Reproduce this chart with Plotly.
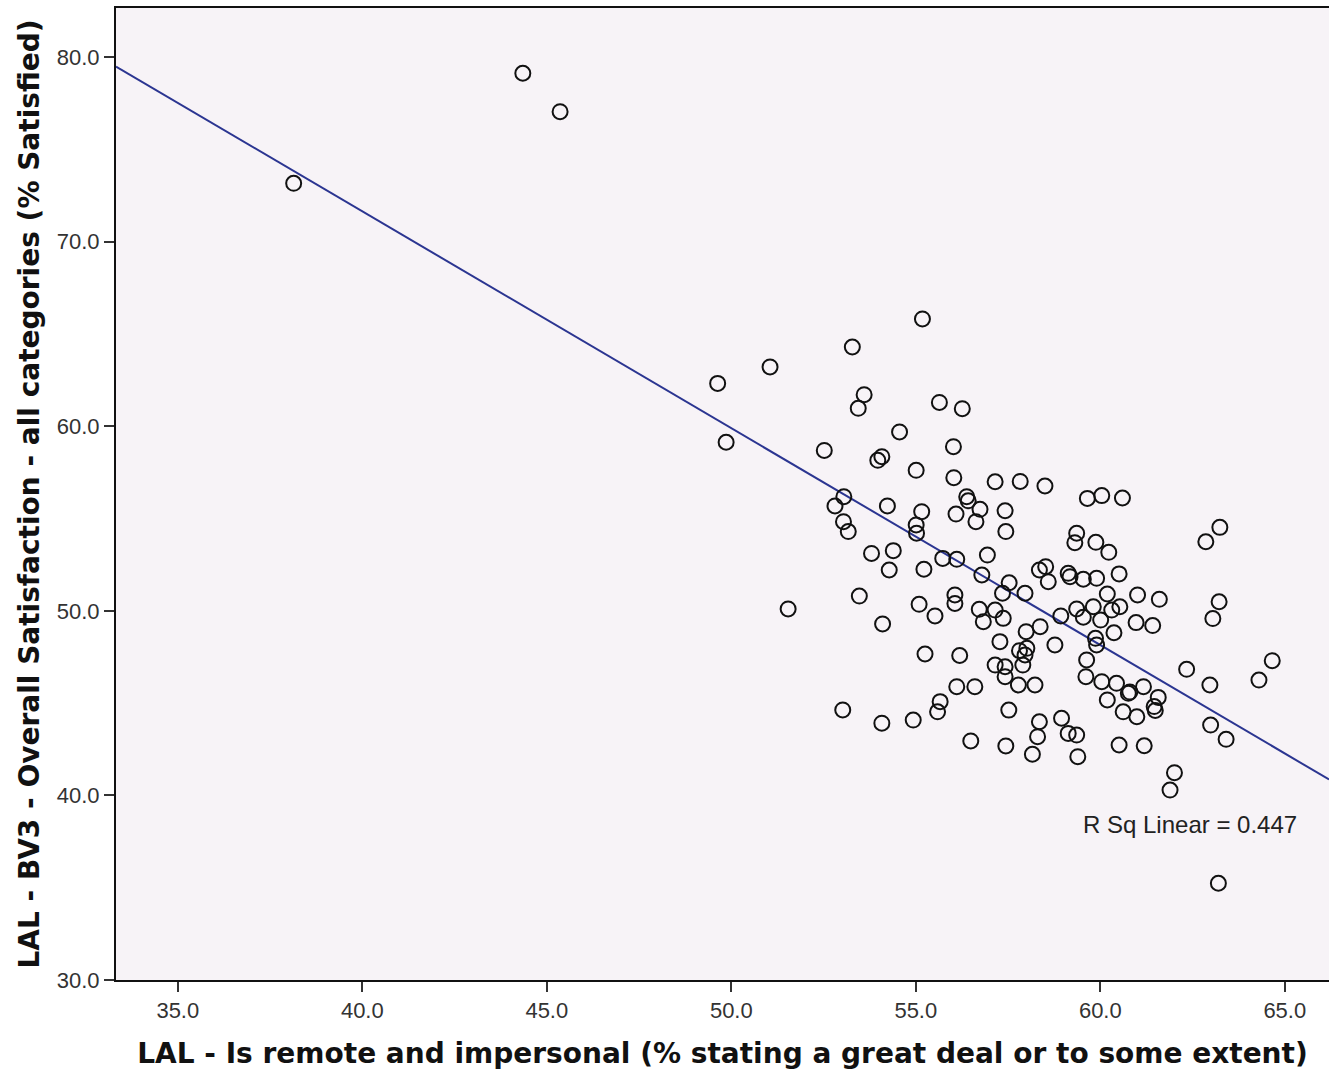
import numpy as np
import plotly.graph_objects as go

# % stating the council is remote and impersonal
remote_pct = [
    38.14, 44.35, 45.36, 49.63, 49.86, 51.05, 51.54, 52.52, 53.28, 55.18,
    53.60, 53.44, 55.64, 56.26, 54.56, 56.02, 53.97, 54.08, 55.01, 56.03,
    57.15, 57.83, 58.50, 53.05, 56.38, 56.42, 59.65, 60.04, 60.60, 57.42,
    57.44, 59.36, 59.31, 59.88, 60.23, 63.24, 62.86, 58.35, 58.52, 58.59,
    59.13, 59.18, 59.54, 59.90, 60.51, 57.53, 57.96, 60.19, 61.01, 61.60,
    63.22, 60.53, 59.36, 59.81, 60.31, 58.93, 63.05, 59.54, 60.01, 60.97,
    61.42, 56.79, 57.35, 56.06, 56.06, 56.72, 57.15, 56.83, 57.37, 57.99,
    58.37, 60.37, 59.87, 59.90, 57.28, 57.81, 57.96, 58.01, 58.77, 56.19,
    57.15, 57.42, 57.42, 57.90, 59.63, 59.61, 56.11, 56.60, 57.78, 58.23,
    60.04, 60.44, 60.76, 60.80, 61.17, 60.19, 57.52, 52.81, 53.04, 53.17,
    54.23, 55.16, 55.01, 55.02, 56.09, 56.74, 56.63, 53.80, 54.39, 54.28,
    55.22, 55.73, 56.11, 56.94, 53.47, 55.09, 55.52, 54.10, 55.25, 53.02,
    54.08, 54.93, 55.66, 55.59, 58.35, 58.30, 58.16, 56.49, 57.44, 61.57,
    61.46, 61.49, 60.62, 60.99, 62.34, 62.97, 64.66, 64.30, 62.99, 63.41,
    58.95, 59.13, 59.36, 59.39, 60.51, 61.19, 62.01, 61.89, 63.20,
]

# Overall satisfaction (% satisfied)
satisfied_pct = [
    73.16, 79.12, 77.04, 62.32, 59.13, 63.21, 50.10, 58.69, 64.29, 65.81,
    61.71, 60.97, 61.29, 60.95, 59.69, 58.89, 58.15, 58.35, 57.61, 57.21,
    56.99, 57.01, 56.76, 56.18, 56.18, 55.96, 56.09, 56.24, 56.11, 55.42,
    54.29, 54.20, 53.69, 53.71, 53.17, 54.52, 53.74, 52.21, 52.39, 51.58,
    52.03, 51.85, 51.71, 51.76, 52.00, 51.52, 50.95, 50.91, 50.86, 50.62,
    50.49, 50.22, 50.10, 50.22, 50.04, 49.72, 49.58, 49.65, 49.50, 49.36,
    49.20, 51.94, 50.95, 50.86, 50.40, 50.08, 50.04, 49.41, 49.59, 48.87,
    49.14, 48.81, 48.51, 48.15, 48.33, 47.84, 47.61, 47.97, 48.15, 47.58,
    47.06, 46.97, 46.43, 47.06, 47.34, 46.43, 45.89, 45.89, 45.98, 45.98,
    46.16, 46.07, 45.53, 45.60, 45.89, 45.17, 44.62, 55.68, 54.83, 54.29,
    55.68, 55.37, 54.65, 54.20, 55.24, 55.50, 54.83, 53.11, 53.26, 52.21,
    52.25, 52.84, 52.79, 53.02, 50.80, 50.35, 49.72, 49.29, 47.66, 44.63,
    43.91, 44.08, 45.08, 44.53, 43.99, 43.18, 42.23, 42.95, 42.68, 45.31,
    44.81, 44.60, 44.53, 44.26, 46.83, 45.98, 47.30, 46.25, 43.81, 43.04,
    44.18, 43.36, 43.27, 42.10, 42.73, 42.69, 41.23, 40.29, 35.24,
]

x_ticks = [35, 40, 45, 50, 55, 60, 65]
y_ticks = [30, 40, 50, 60, 70, 80]
r_sq_label = "R Sq Linear = 0.447"

x_range = [33.325, 66.198]
y_range = [30.0, 82.655]

# least-squares fit line across the full x range
slope, intercept = np.polyfit(remote_pct, satisfied_pct, 1)
fit_x = np.array(x_range)
fit_y = intercept + slope * fit_x

fig = go.Figure()

fig.add_trace(go.Scatter(
    x=fit_x, y=fit_y, mode="lines",
    line=dict(color="#2B3591", width=2),
    hoverinfo="skip", showlegend=False,
))

fig.add_trace(go.Scatter(
    x=remote_pct, y=satisfied_pct, mode="markers",
    marker=dict(symbol="circle-open", size=15, color="#111111",
                line=dict(width=2, color="#111111")),
    showlegend=False,
))

# R Sq label placed in data units, lower right of the cloud
fig.add_annotation(
    x=62.43, y=38.44, xref="x", yref="y", text=r_sq_label, showarrow=False,
    font=dict(family="Liberation Sans, Arial, sans-serif", size=24, color="#222222"),
)

axis_font = dict(family="Liberation Sans, Arial, sans-serif", size=22, color="#333333")
title_font = dict(family="DejaVu Sans, sans-serif", size=28, color="#111111")

fig.update_layout(
    width=1329, height=1073,
    margin=dict(l=116, r=0, t=8, b=93),
    paper_bgcolor="white",
    plot_bgcolor="#F7F3F7",
    xaxis=dict(
        range=x_range, tickvals=x_ticks,
        ticktext=[f"{v:.1f}" for v in x_ticks],
        showgrid=False, zeroline=False,
        showline=True, linecolor="#111111", linewidth=2, mirror=True,
        ticks="outside", ticklen=10, tickwidth=2, tickcolor="#333333",
        tickfont=axis_font,
        title=dict(
            text="<b>LAL - Is remote and impersonal (% stating a great deal or to some extent)</b>",
            font=title_font, standoff=21,
        ),
    ),
    yaxis=dict(
        range=y_range, tickvals=y_ticks,
        ticktext=[f"{v:.1f}" for v in y_ticks],
        showgrid=False, zeroline=False,
        showline=True, linecolor="#111111", linewidth=2,
        ticks="outside", ticklen=10, tickwidth=2, tickcolor="#333333",
        tickfont=axis_font,
        title=dict(
            text="<b>LAL - BV3 - Overall Satisfaction - all categories (% Satisfied)</b>",
            font=title_font, standoff=9,
        ),
    ),
)

fig.write_html("out.html")
